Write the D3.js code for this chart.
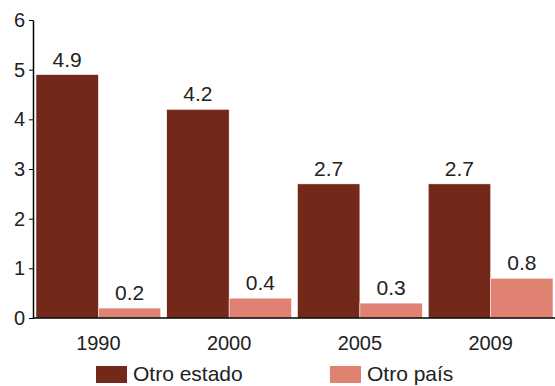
<!DOCTYPE html>
<html><head><meta charset="utf-8">
<script src="https://cdn.jsdelivr.net/npm/d3@7"></script>
<style>body{margin:0;background:#fff}svg{display:block;font-family:"Liberation Sans",Arial,sans-serif}</style>
</head><body><svg id="c" width="555" height="386"></svg>
<script>
const categories = ["1990", "2000", "2005", "2009"];
const seriesNames = ["Otro estado", "Otro país"];
const otroEstado = [4.9, 4.2, 2.7, 2.7];
const otroPais = [0.2, 0.4, 0.3, 0.8];
const yTicks = [0, 1, 2, 3, 4, 5, 6];
const colors = ["#73281a", "#df8271"];

const svg = d3.select("#c");
const x0 = d3.scaleBand().domain(categories).range([33, 556]).paddingInner(0.046).paddingOuter(0.023);
const x1 = d3.scaleBand().domain(seriesNames).range([0, x0.bandwidth()]);
const y = d3.scaleLinear().domain([0, 6]).range([318, 20]);
const series = [otroEstado, otroPais];

const g = svg.append("g");
categories.forEach((c, i) => {
  series.forEach((s, j) => {
    g.append("rect")
      .attr("x", x0(c) + x1(seriesNames[j]))
      .attr("y", y(s[i]))
      .attr("width", x1.bandwidth())
      .attr("height", y(0) - y(s[i]))
      .attr("fill", colors[j])
      .attr("stroke", "#fff").attr("stroke-width", 0.5);
    g.append("text")
      .attr("x", x0(c) + x1(seriesNames[j]) + x1.bandwidth() / 2)
      .attr("y", y(s[i]) - 8)
      .attr("text-anchor", "middle")
      .attr("font-size", 21).attr("fill", "#222")
      .text(s[i].toFixed(1));
  });
});

// y axis
const ya = svg.append("g").attr("transform", "translate(33,0)")
  .call(d3.axisLeft(y).tickValues(yTicks).tickSize(4).tickSizeOuter(0).tickFormat(d3.format("d")));
ya.select(".domain").attr("stroke", "#000").attr("stroke-width", 1.5);
ya.selectAll(".tick line").attr("stroke", "#000");
ya.selectAll(".tick text").attr("font-size", 20).attr("fill", "#222").attr("font-family", "Liberation Sans, Arial, sans-serif").attr("x", -8);

// x axis
const xa = svg.append("g").attr("transform", "translate(0,318)")
  .call(d3.axisBottom(x0).tickSize(0).tickSizeOuter(0));
xa.select(".domain").attr("stroke", "#000").attr("stroke-width", 1.5).attr("d", "M33,0H555");
xa.selectAll(".tick text").attr("font-size", 20).attr("fill", "#222").attr("font-family", "Liberation Sans, Arial, sans-serif").attr("dy", "0.71em").attr("y", 18);

// legend
const legX = [96, 330];
seriesNames.forEach((n, j) => {
  svg.append("rect").attr("x", legX[j]).attr("y", 366).attr("width", 31).attr("height", 17).attr("fill", colors[j]);
  svg.append("text").attr("x", legX[j] + 37).attr("y", 381).attr("font-size", 21).attr("fill", "#222").text(n);
});
</script></body></html>
